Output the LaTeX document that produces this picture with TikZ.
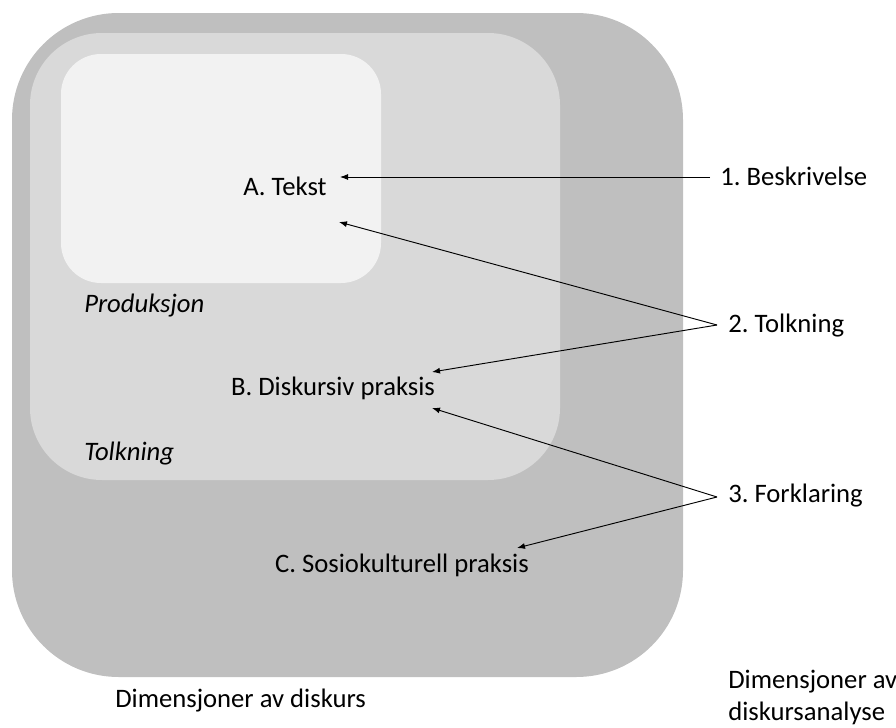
\documentclass[tikz,border=0pt]{standalone}
\usepackage{fontspec}
\setmainfont{Carlito}
\usetikzlibrary{arrows.meta}
\definecolor{outerg}{HTML}{BFBFBF}
\definecolor{midg}{HTML}{D9D9D9}
\definecolor{innerg}{HTML}{F2F2F2}
\newcommand{\fs}{\fontsize{20}{24}\selectfont}
\frenchspacing

\begin{document}
\begin{tikzpicture}[x=0.75pt,y=-0.75pt, every node/.style={font=\fs,inner sep=0pt},
  lbl/.style={anchor=base west},
  dim/.style={anchor=base west,font=\fs\itshape},
  arr/.style={-{Latex[length=6pt,width=4.5pt]},line width=0.7pt}]
\useasboundingbox (0,0) rectangle (896,728);
% the three levels
\fill[outerg,rounded corners=80pt] (12,13) rectangle (683,677);
\fill[midg,rounded corners=54pt] (30,33) rectangle (560,480);
\fill[innerg,rounded corners=30pt] (61,54) rectangle (381,283);
\node[anchor=base] (tekst) at (285,195) {A. Tekst};
\node[anchor=base] (diskp) at (333,395) {B. Diskursiv praksis};
\node[anchor=base] (sosio) at (402,572) {C. Sosiokulturell praksis};
\node[dim] (prod) at (84,312) {Produksjon};
\node[dim] (tolkd) at (84,460) {Tolkning};
% analysis side
\node[lbl] (besk) at (720,185) {1. Beskrivelse};
\node[lbl] (tolk) at (728,332) {2. Tolkning};
\node[lbl] (fork) at (728,502) {3. Forklaring};
\coordinate (v1) at (710,177);
\coordinate (v2) at (717,325);
\coordinate (v3) at (717,497);
\coordinate (t1) at (340,177);
\coordinate (t2a) at (339,222);
\coordinate (t2b) at (432,372);
\coordinate (t3a) at (432,408);
\coordinate (t3b) at (517,548);
\draw[arr] (v1) -- (t1);
\draw[arr] (v2) -- (t2a);
\draw[arr] (v2) -- (t2b);
\draw[arr] (v3) -- (t3a);
\draw[arr] (v3) -- (t3b);
\node[lbl] (dimd) at (115,707) {Dimensjoner av diskurs};
\node[anchor=west,align=left] (dima) at (728,697) {Dimensjoner av\\diskursanalyse};
\end{tikzpicture}
\end{document}
